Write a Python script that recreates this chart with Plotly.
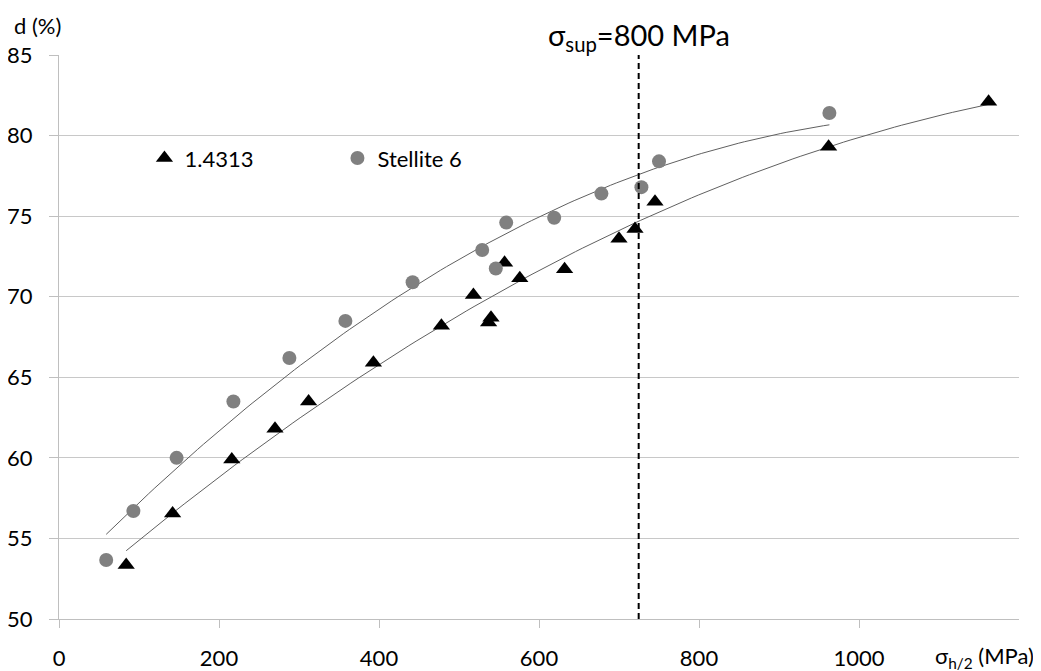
import numpy as np
import plotly.graph_objects as go

# Data
steel_x = [84, 142, 216, 270, 312, 393, 478, 518, 537, 540, 557, 576, 632, 700, 720, 745, 962, 1162]
steel_y = [53.35, 56.55, 59.9, 61.8, 63.5, 65.9, 68.2, 70.1, 68.4, 68.7, 72.1, 71.15, 71.7, 73.6, 74.2, 75.9, 79.3, 82.1]

stellite_x = [59, 93, 147, 218, 288, 358, 442, 529, 546, 559, 619, 678, 728, 750, 963]
stellite_y = [53.66, 56.7, 60.0, 63.5, 66.2, 68.5, 70.9, 72.9, 71.75, 74.6, 74.9, 76.4, 76.8, 78.4, 81.4]

series_names = ["1.4313", "Stellite 6"]
sigma_sup_x = 724.6
x_ticks = [0, 200, 400, 600, 800, 1000]
y_ticks = [50, 55, 60, 65, 70, 75, 80, 85]

FONT = "Lato"

def trend(xs, ys):
    c = np.polyfit(xs, ys, 2)
    xx = np.linspace(min(xs), max(xs), 120)
    return xx, np.polyval(c, xx)

fig = go.Figure()

tx, ty = trend(steel_x, steel_y)
sx, sy = trend(stellite_x, stellite_y)
fig.add_trace(go.Scatter(x=sx, y=sy, mode="lines", line=dict(color="#606060", width=1),
                         showlegend=False, hoverinfo="skip"))
fig.add_trace(go.Scatter(x=tx, y=ty, mode="lines", line=dict(color="#606060", width=1),
                         showlegend=False, hoverinfo="skip"))

fig.add_trace(go.Scatter(x=steel_x, y=steel_y, mode="markers", name=series_names[0],
                         marker=dict(symbol="triangle-up", size=15, color="black")))
fig.add_trace(go.Scatter(x=stellite_x, y=stellite_y, mode="markers", name=series_names[1],
                         marker=dict(symbol="circle", size=14, color="#808080")))

fig.add_shape(type="line", xref="x", yref="paper", x0=sigma_sup_x, x1=sigma_sup_x, y0=0, y1=1,
              line=dict(color="black", width=2, dash="6px,4px"))

fig.add_annotation(text="σ<sub>sup</sub>=800 MPa", xref="x", yref="paper", x=sigma_sup_x, y=1.032,
                   xanchor="center", yanchor="middle", showarrow=False,
                   font=dict(family=FONT, size=29, color="black"))
fig.add_annotation(text="d (%)", xref="paper", yref="paper", x=-0.049, y=1.053,
                   xanchor="left", yanchor="middle", showarrow=False,
                   font=dict(family=FONT, size=22, color="black"))
fig.add_annotation(text="σ<sub>h/2</sub> (MPa)", xref="paper", yref="paper", x=1.018, y=-0.067,
                   xanchor="right", yanchor="middle", showarrow=False,
                   font=dict(family=FONT, size=22, color="black"))

# The page body has an 8px margin, so the figure is sized to fit the 1041x671 window.
fig.update_layout(
    width=1033, height=663,
    margin=dict(l=51, r=22, t=47, b=52, autoexpand=False),
    paper_bgcolor="white", plot_bgcolor="white",
    font=dict(family=FONT, size=22, color="black"),
    legend=dict(orientation="h", x=0.089, y=0.817, xanchor="left", yanchor="middle",
                bgcolor="rgba(0,0,0,0)", entrywidth=148, entrywidthmode="pixels",
                font=dict(family=FONT, size=22), itemsizing="trace"),
    xaxis=dict(range=[0, 1200], tickvals=x_ticks, showgrid=False, zeroline=False,
               showline=True, linecolor="#bfbfbf", linewidth=1, automargin=False,
               ticks="outside", ticklen=8, tickcolor="#bfbfbf",
               ticklabelstandoff=12, tickfont=dict(family=FONT, size=22)),
    yaxis=dict(range=[50, 85], tickvals=y_ticks, showgrid=True, gridcolor="#c8c8c8", gridwidth=1,
               zeroline=False, showline=True, linecolor="#bfbfbf", linewidth=1, automargin=False,
               ticks="outside", ticklen=9, tickcolor="#bfbfbf",
               ticklabelstandoff=12, tickfont=dict(family=FONT, size=22)),
)

fig.write_html("out.html")
